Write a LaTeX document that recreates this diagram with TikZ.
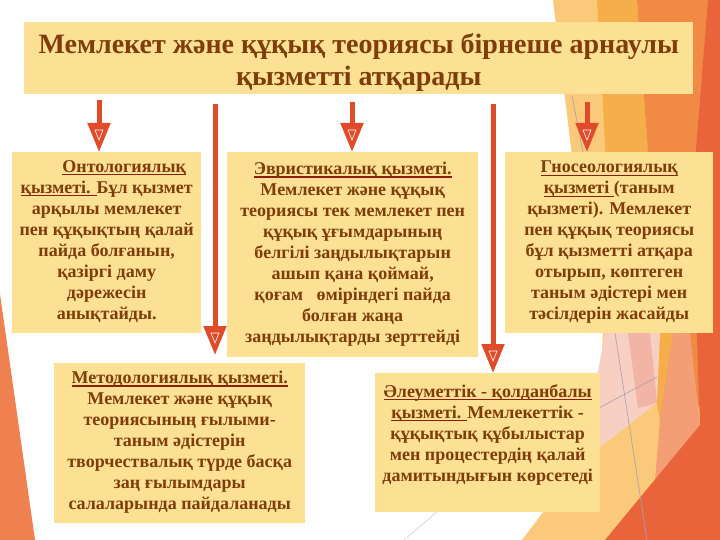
\documentclass[tikz,border=0pt]{standalone}
\usepackage{fontspec}
\setmainfont{Liberation Serif}
\usetikzlibrary{arrows.meta,calc}
\definecolor{boxfill}{HTML}{FCE094}
\definecolor{textc}{HTML}{7E3D0A}
\definecolor{ulc}{HTML}{8A1F0F}
\definecolor{arrowc}{HTML}{E04B2A}
\definecolor{pale}{HTML}{FBC97A}
\definecolor{golden}{HTML}{F5AE4A}
\definecolor{orng}{HTML}{F08A44}
\definecolor{salmon}{HTML}{F49E76}
\definecolor{redor}{HTML}{E9643A}
\definecolor{pinkf}{HTML}{F7CFC3}
\definecolor{pinkd}{HTML}{F2B4A4}
\definecolor{sliver}{HTML}{EF8050}
\definecolor{thinl}{HTML}{A8A0B0}
\newcommand\ulx[1]{\setbox0\hbox{#1}\rlap{\textcolor{ulc}{\rule[-3pt]{\wd0}{1.2pt}}}\box0}
\tikzset{
  boxx/.style={fill=boxfill, draw=none, inner sep=0pt, anchor=north west},
  txt/.style={text=textc, font=\bfseries\fontsize{18}{21}\selectfont, align=center, inner sep=0pt, anchor=north},
  ttl/.style={text=textc, font=\bfseries\fontsize{28}{32}\selectfont, align=center, inner sep=0pt, anchor=north},
  arr/.style={draw=arrowc, line width=5pt, -{Triangle[width=22pt,length=29pt]}},
  mark tri/.style={draw=white, line width=0.6pt},
  thin line/.style={draw=thinl, line width=0.6pt}
}
\begin{document}
\begin{tikzpicture}[x=1pt,y=-1pt]
\useasboundingbox (0,0) rectangle (720,540);
\fill[white] (0,0) rectangle (720,540);
% background facets
\fill[pale] (553,0) -- (720,0) -- (720,540) -- (522,540) -- (598,440) -- (603,333) -- (575,180) -- cycle;
\fill[golden] (597,0) -- (637,0) -- (650,180) -- (673,333) -- (660,420) -- (643,333) -- (607,180) -- cycle;
\fill[orng] (637,0) -- (720,0) -- (720,400) -- (660,420) -- (673,333) -- (650,180) -- cycle;
\fill[salmon] (673,333) -- (690,333) -- (700,425) -- (655,480) -- (660,420) -- cycle;
\fill[redor] (708,0) -- (720,0) -- (720,540) -- (605,540) -- (700,425) -- (692,200) -- cycle;
\fill[pinkf] (605,333) -- (660,333) -- (657,403) -- (600,447) -- (597,377) -- cycle;
\fill[pinkd] (628,333) -- (650,333) -- (657,403) -- (638,408) -- cycle;
\fill[sliver] (0,294) -- (35,540) -- (0,540) -- cycle;
\draw[thin line] (572,96) -- (583,152);
\draw[thin line] (615,333) -- (647,540);
\draw[thin line] (597,409) -- (657,377);
\draw[thin line, draw=thinl!50] (404,540) -- (445,505);

% title
\node[boxx, minimum width=669pt, minimum height=72pt] (T) at (24,22) {};
\node[ttl] (Tt) at ($(T.north)+(0,11)$) {Мемлекет және құқық теориясы бірнеше арнаулы\\қызметті атқарады};

% boxes
\node[boxx, minimum width=189pt, minimum height=181pt] (A) at (12,152) {};
\node[boxx, minimum width=251pt, minimum height=205pt] (B) at (227,152) {};
\node[boxx, minimum width=208pt, minimum height=181pt] (C) at (505,152) {};
\node[boxx, minimum width=251pt, minimum height=160pt] (D) at (54,363) {};
\node[boxx, minimum width=225pt, minimum height=139pt] (E) at (375,373) {};

\node[txt] (At) at ($(A.north)+(0,8)$) {\hspace*{35pt}\ulx{Онтологиялық}\\\ulx{қызметі. }Бұл қызмет\\арқылы мемлекет\\пен құқықтың қалай\\пайда болғанын,\\қазіргі даму\\дәрежесін\\анықтайды.};
\node[txt] (Bt) at ($(B.north)+(0,10)$) {\ulx{Эвристикалық қызметі.}\\Мемлекет және құқық\\теориясы тек мемлекет пен\\құқық ұғымдарының\\белгілі заңдылықтарын\\ашып қана қоймай,\\қоғам\ \ \ өміріндегі пайда\\болған жаңа\\заңдылықтарды зерттейді};
\node[txt] (Ct) at ($(C.north)+(0,9)$) {\ulx{Гносеологиялық}\\\ulx{қызметі }(таным\\қызметі). Мемлекет\\пен құқық теориясы\\бұл қызметті атқара\\отырып, көптеген\\таным әдістері мен\\тәсілдерін жасайды};
\node[txt] (Dt) at ($(D.north)+(0,8)$) {\ulx{Методологиялық қызметі.}\\Мемлекет және құқық\\теориясының ғылыми-\\таным әдістерін\\творчествалық түрде басқа\\заң ғылымдары\\салаларында пайдаланады};
\node[txt] (Et) at ($(E.north)+(0,11)$) {\ulx{Әлеуметтік - қолданбалы}\\\ulx{қызметі. }Мемлекеттік -\\құқықтық құбылыстар\\мен процестердің қалай\\дамитындығын көрсетеді};

% arrows
\coordinate (s1) at (99,100);
\coordinate (s2) at (215,104);
\coordinate (s3) at (352,102);
\coordinate (s4) at (493,104);
\coordinate (s5) at (587,102);
\coordinate (e1) at (s1 |- A.north);
\coordinate (e2) at ($(s2 |- D.north)+(0,-8)$);
\coordinate (e3) at (s3 |- B.north);
\coordinate (e4) at (s4 |- E.north);
\coordinate (e5) at (s5 |- C.north);
\foreach \i in {1,...,5} {
  \draw[arr] (s\i) -- (e\i);
  \draw[mark tri] ($(e\i)+(-4,-22)$) -- ($(e\i)+(4,-22)$) -- ($(e\i)+(0,-12)$) -- cycle;
}
\end{tikzpicture}
\end{document}
